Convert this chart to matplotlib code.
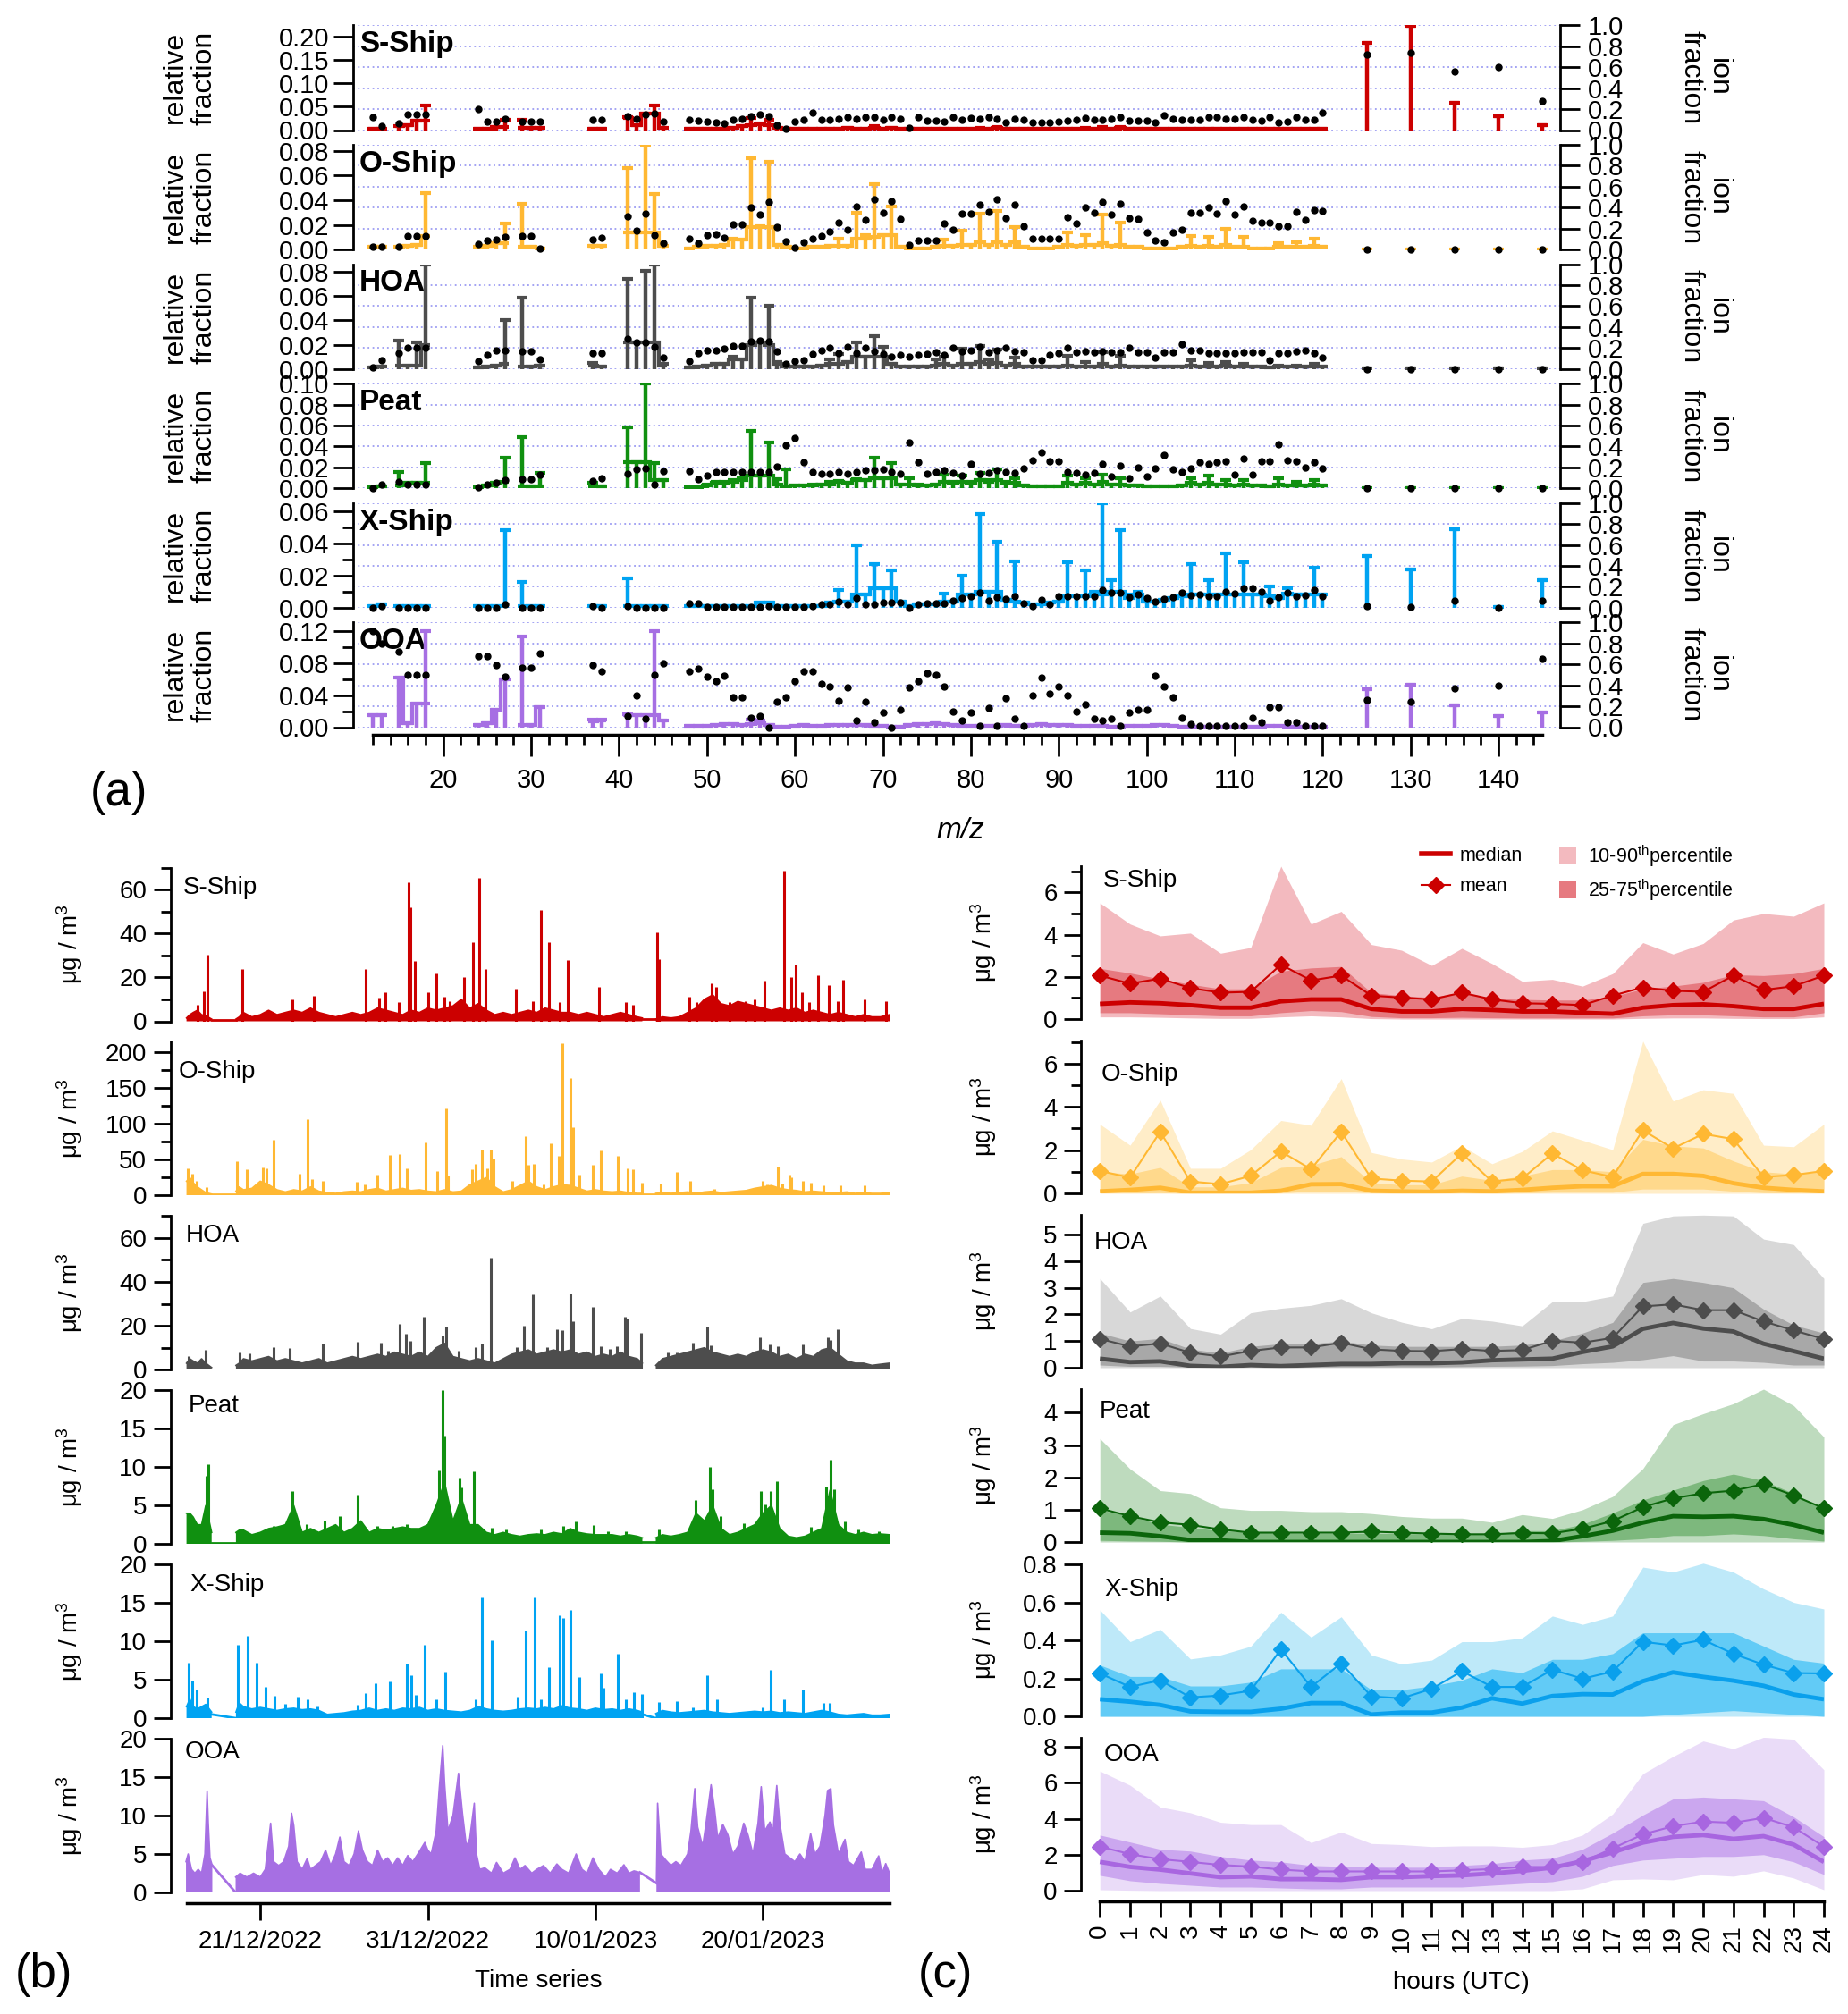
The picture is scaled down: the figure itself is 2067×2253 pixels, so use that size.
import numpy as np
import matplotlib
matplotlib.use('Agg')
import matplotlib.pyplot as plt
from matplotlib.lines import Line2D
from matplotlib.patches import Patch
from matplotlib.ticker import MultipleLocator, FixedLocator, FormatStrFormatter

nan = np.nan

# ===================== DATA =====================
factor_names = ['S-Ship', 'O-Ship', 'HOA', 'Peat', 'X-Ship', 'OOA']

# ---------- (a) mass spectra ----------
mz = [12, 13, 15, 16, 17, 18, 24, 25, 26, 27, 29, 30, 31, 37, 38, 41, 42, 43, 44, 45,
      48, 49, 50, 51, 52, 53, 54, 55, 56, 57, 58, 59, 60, 61, 62, 63, 64, 65, 66, 67,
      68, 69, 70, 71, 72, 73, 74, 75, 76, 77, 78, 79, 80, 81, 82, 83, 84, 85, 86, 87,
      88, 89, 90, 91, 92, 93, 94, 95, 96, 97, 98, 99, 100, 101, 102, 103, 104, 105, 106, 107,
      108, 109, 110, 111, 112, 113, 114, 115, 116, 117, 118, 119, 120,
      125, 130, 135, 140, 145]
mz_major_ticks = [20, 30, 40, 50, 60, 70, 80, 90, 100, 110, 120, 130, 140]
mz_minor_ticks = list(range(12, 146, 2))

sship_prof = [.003, .003, .008, .010, .020, .020, .002, .003, .006, .006, .005, .004, .004, .003, .003, .025, .010, .035, .035, .005,
              .002, .002, .002, .002, .003, .004, .008, .010, .012, .010, .004, .002, .002, .002, .002, .002, .002, .003, .004, .003,
              .003, .005, .003, .004, .003, .002, .002, .002, .002, .003, .002, .002, .002, .003, .002, .004, .003, .002, .002, .002,
              .002, .002, .002, .002, .002, .003, .002, .003, .002, .004, .003, .002, .002, .002, .002, .002, .002, .002, .002, .003,
              .002, .002, .002, .002, .003, .002, .002, .002, .002, .002, .002, .002, .002,
              .186, .223, .058, .030, .0096]
sship_top = [.003, .003, .008, .010, .020, .053, .002, .003, .006, .022, .022, .004, .004, .003, .003, .027, .010, .035, .053, .005,
             .002, .002, .002, .002, .003, .004, .008, .026, .014, .022, .004, .002, .002, .002, .002, .002, .002, .003, .005, .003,
             .003, .008, .003, .005, .003, .002, .002, .002, .002, .003, .002, .002, .002, .005, .002, .006, .003, .002, .002, .002,
             .002, .002, .002, .002, .002, .004, .002, .006, .002, .006, .003, .002, .002, .002, .002, .002, .002, .002, .002, .003,
             .002, .002, .002, .002, .003, .002, .002, .002, .002, .002, .002, .002, .002,
             .186, .223, .058, .030, .0096]
sship_ion = [.12, .04, .065, .15, .15, .15, .20, .085, .085, .11, .085, .077, .077, .10, .10, .13, .11, .15, .16, .08,
             .10, .092, .078, .069, .065, .10, .11, .134, .147, .134, .046, .01, .078, .10, .166, .10, .10, .11, .124, .11,
             .124, .124, .10, .124, .11, .023, .12, .092, .088, .078, .124, .10, .115, .11, .12, .11, .074, .11, .10, .069,
             .069, .069, .078, .088, .10, .115, .10, .10, .11, .12, .088, .088, .088, .069, .138, .11, .10, .10, .10, .12,
             .124, .106, .11, .124, .10, .088, .124, .069, .083, .12, .10, .10, .17,
             .72, .74, .56, .60, .28]

oship_prof = [.002, .002, .002, .003, .004, .011, .002, .003, .005, .005, .002, .002, .001, .003, .003, .014, .014, .014, .014, .003,
              .001, .002, .003, .003, .004, .008, .008, .018, .018, .018, .004, .002, .001, .001, .002, .002, .003, .003, .003, .009,
              .009, .010, .012, .012, .002, .001, .001, .001, .002, .003, .003, .004, .004, .006, .004, .006, .004, .006, .002, .001,
              .001, .001, .002, .004, .003, .004, .004, .005, .003, .004, .002, .002, .001, .001, .001, .001, .002, .003, .002, .003,
              .002, .004, .002, .002, .001, .001, .001, .002, .002, .002, .002, .003, .002,
              .0003, .0003, .0003, .0003, .0003]
oship_top = [.002, .002, .002, .003, .004, .046, .002, .003, .005, .021, .037, .002, .001, .003, .003, .066, .014, .085, .045, .003,
             .001, .002, .003, .003, .004, .009, .008, .074, .019, .071, .004, .002, .001, .001, .002, .002, .003, .009, .003, .030,
             .012, .053, .012, .035, .002, .001, .001, .001, .002, .008, .003, .015, .004, .029, .004, .031, .004, .018, .002, .001,
             .001, .001, .002, .014, .003, .012, .004, .028, .003, .022, .002, .002, .001, .001, .001, .001, .002, .011, .002, .010,
             .002, .017, .002, .010, .001, .001, .001, .005, .002, .006, .002, .009, .002,
             .0003, .0003, .0003, .0003, .0003]
oship_ion = [.03, .03, .03, .13, .13, .13, .05, .085, .094, .12, .13, .13, .01, .094, .11, .32, .18, .34, .14, .06,
             .10, .06, .135, .15, .11, .24, .24, .40, .33, .45, .21, .08, .02, .07, .10, .13, .17, .26, .19, .41,
             .28, .48, .35, .46, .29, .04, .09, .09, .09, .25, .19, .34, .34, .43, .36, .48, .30, .43, .22, .10,
             .10, .10, .10, .31, .25, .40, .35, .45, .33, .44, .30, .29, .16, .09, .07, .16, .19, .35, .35, .40,
             .34, .46, .33, .41, .27, .26, .26, .22, .22, .36, .28, .38, .37,
             0.0, 0.0, 0.0, 0.0, 0.0]

hoa_prof = [.001, .002, .003, .003, .003, .020, .001, .002, .003, .004, .002, .002, .003, .003, .002, .022, .022, .022, .022, .003,
            .001, .002, .003, .004, .004, .008, .008, .020, .022, .020, .004, .002, .002, .002, .002, .003, .004, .004, .006, .010,
            .010, .010, .010, .004, .002, .002, .002, .002, .003, .004, .003, .004, .004, .006, .004, .005, .003, .004, .002, .002,
            .002, .002, .002, .003, .002, .002, .002, .004, .002, .003, .002, .002, .002, .002, .002, .002, .002, .003, .002, .002,
            .002, .003, .002, .002, .002, .002, .001, .002, .002, .002, .002, .002, .002,
            .0003, .0003, .0003, .0003, .0003]
hoa_top = [.001, .002, .023, .003, .022, .086, .001, .002, .003, .040, .059, .002, .003, .005, .002, .074, .022, .081, .086, .004,
           .001, .002, .003, .004, .004, .010, .008, .059, .022, .052, .006, .002, .002, .002, .002, .003, .008, .012, .006, .022,
           .010, .027, .018, .004, .002, .002, .002, .002, .008, .010, .003, .017, .004, .019, .008, .016, .003, .009, .002, .002,
           .002, .002, .002, .011, .002, .006, .002, .014, .002, .011, .002, .002, .002, .002, .002, .002, .002, .007, .002, .005,
           .002, .006, .002, .004, .002, .002, .001, .003, .002, .003, .002, .004, .002,
           .0003, .0003, .0003, .0003, .0003]
hoa_ion = [.014, .08, .147, .20, .20, .20, .07, .13, .18, .18, .17, .17, .09, .15, .15, .29, .25, .25, .21, .11,
           .07, .15, .18, .18, .19, .22, .22, .26, .27, .26, .17, .05, .07, .08, .14, .18, .20, .15, .21, .15,
           .20, .17, .14, .12, .13, .12, .13, .14, .16, .13, .20, .17, .175, .21, .16, .175, .20, .17, .16, .085,
           .08, .13, .15, .20, .16, .17, .16, .17, .16, .16, .20, .16, .16, .11, .16, .16, .24, .18, .18, .15,
           .15, .15, .15, .16, .16, .16, .085, .15, .15, .17, .18, .15, .11,
           0.0, 0.0, 0.0, 0.0, 0.0]

peat_prof = [.001, .002, .003, .005, .005, .005, .001, .003, .005, .006, .002, .002, .002, .002, .002, .025, .025, .025, .008, .008,
             .001, .001, .003, .005, .005, .006, .008, .012, .012, .012, .004, .002, .003, .003, .003, .004, .004, .006, .005, .008,
             .008, .010, .010, .010, .004, .004, .003, .003, .004, .006, .005, .006, .005, .008, .006, .008, .005, .005, .003, .002,
             .002, .002, .002, .005, .004, .005, .004, .006, .004, .004, .003, .003, .002, .002, .002, .002, .003, .005, .004, .005,
             .004, .004, .003, .004, .003, .003, .002, .004, .003, .003, .003, .004, .003,
             .0003, .0003, .0003, .0003, .0003]
peat_top = [.001, .002, .016, .005, .005, .024, .001, .003, .005, .029, .049, .002, .015, .005, .002, .058, .025, .100, .024, .008,
            .001, .001, .004, .006, .006, .008, .010, .055, .012, .044, .009, .018, .003, .003, .004, .004, .006, .007, .005, .009,
            .008, .029, .010, .024, .004, .010, .004, .003, .004, .013, .006, .012, .006, .015, .008, .018, .006, .010, .003, .002,
            .002, .002, .002, .012, .004, .010, .004, .013, .004, .010, .003, .003, .002, .002, .002, .002, .003, .010, .004, .012,
            .004, .008, .003, .008, .003, .003, .002, .010, .003, .006, .003, .008, .003,
            .0003, .0003, .0003, .0003, .0003]
peat_ion = [.0, .037, .06, .035, .035, .035, .014, .037, .05, .08, .085, .085, .13, .07, .10, .14, .18, .19, .035, .165,
            .165, .085, .12, .16, .16, .16, .16, .16, .16, .16, .21, .41, .48, .25, .16, .135, .135, .16, .135, .16,
            .17, .17, .18, .16, .135, .44, .25, .135, .16, .17, .15, .12, .23, .135, .15, .17, .16, .15, .19, .27,
            .34, .26, .26, .16, .15, .13, .15, .23, .11, .22, .10, .20, .11, .19, .32, .18, .16, .19, .25, .23,
            .25, .26, .13, .28, .13, .26, .26, .42, .27, .26, .20, .25, .19,
            0.0, 0.0, 0.0, 0.0, 0.0]

xship_prof = [.001, .002, .001, .001, .001, .001, .001, .001, .001, .001, .001, .001, .001, .001, .001, .001, .001, .001, .001, .001,
              .001, .001, .001, .001, .001, .001, .001, .001, .003, .003, .001, .001, .001, .001, .001, .001, .003, .004, .004, .008,
              .008, .012, .012, .012, .004, .001, .002, .002, .002, .004, .004, .008, .008, .010, .010, .010, .005, .004, .003, .002,
              .002, .003, .004, .007, .007, .007, .008, .008, .010, .010, .006, .008, .004, .004, .005, .006, .007, .008, .008, .008,
              .008, .008, .008, .008, .008, .008, .007, .006, .009, .008, .008, .008, .008,
              .032, .024, .049, .0005, .017]
xship_top = [.001, .002, .001, .001, .001, .001, .001, .001, .001, .048, .016, .001, .001, .001, .001, .018, .001, .001, .001, .001,
             .001, .001, .001, .001, .001, .001, .001, .001, .003, .003, .001, .001, .001, .001, .001, .001, .003, .011, .004, .039,
             .008, .027, .012, .023, .004, .001, .002, .002, .002, .009, .004, .020, .008, .058, .010, .041, .005, .029, .003, .002,
             .002, .003, .004, .028, .007, .023, .010, .065, .017, .048, .008, .010, .004, .004, .005, .006, .007, .027, .008, .017,
             .008, .034, .008, .028, .008, .008, .013, .006, .012, .008, .008, .025, .008,
             .032, .024, .049, .0005, .017]
xship_ion = [.0, .015, .0, .0, .0, .0, .0, .0, .0, .035, .0, .0, .0, .02, .0, .02, .0, .0, .0, .0,
             .04, .04, .01, .01, .01, .01, .01, .01, .01, .015, .01, .01, .01, .01, .02, .035, .03, .057, .035, .09,
             .037, .037, .05, .05, .05, .0, .035, .04, .04, .04, .07, .09, .11, .14, .065, .10, .085, .11, .04, .02,
             .08, .037, .11, .11, .11, .11, .11, .17, .14, .14, .10, .13, .09, .057, .085, .10, .14, .12, .13, .11,
             .11, .156, .133, .19, .19, .15, .065, .10, .14, .11, .12, .17, .11,
             .015, .01, .07, .0, .065]

ooa_prof = [.015, .015, .062, .005, .030, .030, .003, .005, .022, .060, .003, .003, .025, .007, .008, .015, .015, .015, .015, .008,
            .002, .002, .002, .003, .004, .004, .003, .004, .005, .003, .001, .001, .002, .003, .002, .002, .003, .003, .003, .003,
            .003, .002, .002, .001, .001, .003, .004, .004, .005, .004, .003, .002, .002, .002, .002, .002, .003, .002, .002, .003,
            .004, .003, .003, .003, .002, .002, .002, .002, .001, .001, .002, .002, .002, .003, .003, .002, .001, .001, .001, .001,
            .001, .001, .001, .001, .001, .001, .002, .002, .001, .001, .001, .001, .001,
            .047, .053, .027, .014, .018]
ooa_top = [.015, .015, .062, .005, .030, .120, .003, .005, .022, .060, .113, .003, .025, .009, .009, .016, .015, .015, .120, .008,
           .002, .002, .002, .003, .004, .004, .003, .010, .008, .003, .001, .001, .002, .003, .002, .002, .003, .003, .003, .003,
           .003, .002, .002, .001, .001, .003, .004, .004, .005, .004, .003, .002, .002, .002, .002, .002, .003, .002, .002, .003,
           .004, .003, .003, .003, .002, .002, .002, .002, .001, .001, .002, .002, .002, .003, .003, .002, .001, .001, .001, .001,
           .001, .001, .001, .001, .001, .001, .002, .002, .001, .001, .001, .001, .001,
           .047, .053, .027, .014, .018]
ooa_ion = [.92, .80, .72, .50, .50, .50, .68, .68, .59, .48, .57, .57, .70, .59, .53, .11, .30, .08, .50, .61,
           .53, .56, .48, .44, .49, .29, .29, .09, .11, .0, .24, .29, .44, .53, .53, .41, .39, .25, .38, .06,
           .24, .05, .14, .0, .17, .38, .44, .52, .50, .39, .15, .06, .14, .01, .18, .01, .28, .08, .01, .30,
           .47, .32, .39, .30, .15, .22, .08, .06, .08, .01, .14, .17, .17, .49, .39, .29, .09, .03, .01, .01,
           .01, .01, .01, .01, .09, .05, .19, .19, .05, .05, .01, .01, .01,
           .26, .24, .37, .40, .65]

# ---------- (b) time series (days since 16/12/2022 00:00) ----------
date_tick_days = [5, 15, 25, 35]
date_tick_labels = ['21/12/2022', '31/12/2022', '10/01/2023', '20/01/2023']

env_day = [0.6, 0.8, 1.0, 1.25, 1.5, 1.75, 2.1, nan,
           3.55, 3.75, 4.0, 4.5, 5.0, 5.5, 6.0, 6.5, 7.0, 7.5, 8.0, 8.5, 9.0, 9.5, 10.0, 10.5, 11.0, 11.5,
           12.0, 12.5, 13.0, 13.5, 14.0, 14.5, 15.0, 15.5, 16.0, 16.5, 17.0, 17.5, 18.0, 18.5, 19.0, 19.5,
           20.0, 20.5, 21.0, 21.5, 22.0, 22.5, 23.0, 23.5, 24.0, 24.5, 25.0, 25.5, 26.0, 26.5, 27.0, 27.5, 27.8, nan,
           28.6, 29.0, 29.5, 30.0, 30.5, 31.0, 31.5, 32.0, 32.5, 33.0, 33.5, 34.0, 34.5, 35.0, 35.5, 36.0,
           36.5, 37.0, 37.5, 38.0, 38.5, 39.0, 39.5, 40.0, 40.5, 41.0, 41.5, 42.0, 42.55]

sship_env = [1.5, 3, 4, 5, 3, 2.5, 1, nan,
             1, 2, 4, 2, 3, 5, 3, 4, 5, 4, 6, 4, 3, 2, 3, 4, 3, 4,
             6, 5, 4, 3, 5, 4, 6, 5, 6, 7, 10, 6, 8, 5, 3, 4,
             3, 4, 5, 4, 6, 5, 4, 4, 3, 4, 3, 2, 3, 4, 3, 2, 1.5, nan,
             1, 2, 1.5, 2, 4, 6, 10, 12, 8, 7, 9, 8, 7, 6, 5, 6,
             5, 6, 4, 5, 4, 3, 4, 3, 2, 3, 2, 2, 3]
sship_gap_day = [2.1, 3.55, nan, 27.8, 28.6]
sship_gap_val = [0.5, 0.5, nan, 1.0, 1.0]
sship_spk_day = [1.28, 1.62, 1.87, 3.95, 6.9, 8.22, 11.27, 12.1, 12.45, 13.29, 13.85, 13.98, 14.23, 15.0, 15.48,
                 15.96, 16.31, 17.18, 17.7, 18.05, 18.46, 20.27, 21.24, 21.73, 22.21, 22.87, 23.32, 25.23, 26.83, 27.25,
                 28.7, 28.81, 30.61, 31.03, 31.94, 32.18, 32.98, 33.98, 34.5, 35.1, 36.24, 36.69, 36.93, 37.32, 37.73,
                 38.29, 38.91, 39.47, 39.78, 41.03, 42.32]
sship_spk_val = [7.7, 13.5, 30.3, 23.8, 9.8, 11.8, 24, 10.6, 13.2, 8.6, 63.4, 51.8, 27.4, 13.2, 21.8,
                 11, 9.3, 20, 36, 65.5, 24, 14.9, 9.3, 50.6, 36, 8.9, 27.8, 15.8, 8.6, 7.5,
                 40.6, 28.1, 11, 8.9, 17.5, 15.8, 8.6, 9, 9.8, 18.7, 68.6, 20, 26, 13.2, 8.6,
                 20.9, 16.6, 9.3, 18.9, 9.8, 9.3]

oship_env = [20, 25, 18, 12, 8, 4, 2, nan,
             6, 12, 8, 10, 20, 15, 8, 5, 8, 6, 12, 6, 4, 3, 5, 6, 5, 8,
             10, 6, 8, 10, 7, 8, 6, 5, 8, 5, 6, 15, 20, 25, 12, 5,
             8, 14, 20, 12, 8, 12, 15, 14, 10, 6, 8, 6, 5, 6, 4, 3, 3, nan,
             3, 4, 3, 4, 5, 3, 5, 6, 4, 5, 6, 7, 10, 12, 14, 10,
             8, 7, 5, 6, 5, 4, 4, 5, 3, 4, 3, 3, 4]
oship_gap_day = [2.1, 3.55, nan, 27.8, 28.6]
oship_gap_val = [1.5, 1.5, nan, 1.5, 1.5]
oship_spk_day = [0.69, 0.93, 1.2, 1.8, 3.6, 4.19, 4.78, 5.16, 5.37, 5.79, 7.32, 7.84, 8.1, 8.74, 10.75,
                 11.24, 11.97, 12.73, 13.32, 13.74, 14.85, 15.58, 16.07, 16.2, 17.63, 17.87, 18.25, 18.56, 18.77, 18.91,
                 20.03, 20.82, 21.0, 21.31, 21.9, 22.32, 22.8, 23.05, 23.5, 23.64, 24.02, 24.85, 25.34, 26.34, 26.9,
                 27.25, 27.77, 28.88, 29.85, 30.68, 32.1, 34.96, 35.23, 35.86, 36.17, 36.55, 36.69, 37.39, 37.84, 38.6,
                 39.64, 41.03]
oship_spk_val = [37.6, 30.7, 20, 12, 48, 37, 13, 39.7, 38.6, 78, 30.7, 107, 23, 21, 19,
                 15, 29.6, 57, 58, 38.6, 74, 34, 122, 28, 37, 44, 64, 38.6, 64, 52,
                 21, 83.6, 43, 44, 15, 73, 55.6, 213, 164.6, 95.8, 29, 43, 62.4, 55.6, 38.6,
                 37, 18.5, 16.4, 33, 20, 9.5, 20, 16, 41, 17, 29, 25, 21, 18.5, 14,
                 14, 14]

hoa_env = [3, 5, 4, 3, 5, 3, 1, nan,
           2, 3, 5, 4, 5, 6, 4, 5, 4, 3, 4, 5, 3, 4, 5, 6, 5, 6,
           7, 6, 8, 7, 6, 8, 6, 10, 12, 6, 5, 4, 5, 4, 3, 5,
           7, 8, 9, 7, 8, 9, 8, 9, 7, 8, 6, 7, 6, 8, 6, 5, 3, nan,
           2, 5, 6, 7, 8, 9, 10, 8, 7, 6, 7, 6, 8, 9, 8, 6,
           7, 5, 7, 6, 9, 10, 7, 4, 3, 3, 2, 2.5, 3]
hoa_gap_day = [2.1, 3.55, nan, 27.8, 28.6]
hoa_gap_val = [0.3, 0.3, nan, 0.3, 0.3]
hoa_spk_day = [0.75, 1.73, 3.78, 4.33, 5.79, 6.73, 8.74, 10.79, 12.18, 12.63, 13.32, 13.71, 13.95, 14.75, 15.86,
               16.07, 16.83, 17.87, 18.22, 18.77, 20.3, 20.72, 21.24, 22.11, 22.73, 23.05, 23.5, 23.67, 24.85, 25.34,
               25.86, 26.28, 26.76, 26.87, 27.73, 29.33, 29.85, 30.79, 31.66, 31.9, 34.82, 35.41, 35.89, 37.39, 38.85,
               39.02, 39.47]
hoa_spk_val = [6.3, 8.9, 7.7, 7.4, 10.3, 9.8, 12, 12.9, 12.3, 8.6, 20.9, 16.3, 13.2, 24.3, 15.4,
               19.7, 8.6, 10.3, 12, 50.9, 10.3, 20.2, 34.3, 10.3, 18.5, 18, 34.6, 22.3, 28.8, 10.6,
               9.4, 10.6, 24, 23.5, 16.8, 7.7, 7.7, 12.5, 19.7, 11, 14.6, 11.5, 10.8, 11.5, 14.6,
               13.7, 18.5]

peat_env = [4, 4, 3.5, 2.5, 2.5, 5, 1.5, nan,
            1.5, 1.8, 1.8, 1.2, 1.5, 2, 2.2, 2.5, 5, 1.5, 2, 1.5, 2, 2.5, 1.5, 2, 3, 1.5,
            2, 1.8, 2, 2.2, 2, 2, 2.5, 5, 8, 3, 6, 2.5, 2.5, 1.5, 1.2, 1.5,
            1.2, 1, 1.2, 1.3, 1.2, 1.5, 1.3, 2, 1.5, 1.3, 1.2, 1.2, 1.2, 1.0, 1.2, 1.0, 0.8, nan,
            0.8, 1.2, 1.0, 1.2, 1.5, 4, 3, 5, 2, 1.2, 1.5, 2, 2.5, 4, 5, 2,
            1, 0.8, 1.0, 1.5, 2, 7, 2.5, 1.5, 1.2, 1.5, 1.2, 1.3, 1.2]
peat_gap_day = [2.1, 3.55, nan, 27.8, 28.6]
peat_gap_val = [0.1, 0.1, nan, 0.2, 0.2]
peat_spk_day = [1.8, 1.9, 5.79, 6.48, 6.94, 7.77, 8.85, 9.75, 10.82, 11.97, 12.91, 13.74, 14.99, 15.68, 15.86,
                15.98, 16.87, 17.0, 17.77, 18.81, 19.68, 21.76, 23.08, 23.85, 24.89, 25.75, 26.8, 28.77, 29.92, 30.96,
                31.83, 32.0, 32.45, 33.85, 34.61, 34.85, 35.13, 35.44, 35.82, 37.84, 38.78, 39.02, 39.23, 39.89, 40.69,
                41.9]
peat_spk_val = [8.9, 10.4, 2.4, 2.6, 6.9, 2.6, 3.0, 3.6, 6.4, 2.3, 2.4, 2.6, 2.6, 9.6, 20,
                14.1, 8.6, 7.4, 9.5, 2.1, 1.9, 1.9, 2.3, 2.9, 2.5, 1.6, 1.6, 1.9, 1.2, 5.7,
                10, 7.1, 3.6, 2.7, 2.7, 6.9, 5.1, 6.9, 8.2, 2.2, 7.5, 10.9, 7.1, 2.9, 1.9,
                1.6]

xship_env = [1.5, 2.5, 1.5, 1.2, 1.5, 1.8, 0.8, nan,
             0.8, 2, 1.5, 1.2, 1.4, 1.2, 1.0, 1.2, 1.3, 1.1, 1.2, 1.0, 0.5, 0.6, 0.7, 0.9, 1.0, 1.3,
             1.0, 1.2, 1.0, 1.3, 1.2, 1.4, 1.0, 1.2, 1.0, 0.9, 0.8, 1.0, 1.5, 1.2, 1.0, 0.9,
             1.0, 1.2, 1.3, 1.2, 1.4, 1.2, 1.6, 1.3, 1.2, 1.0, 1.3, 1.1, 1.2, 1.0, 1.2, 1.0, 0.8, nan,
             0.6, 1.0, 0.8, 0.7, 0.8, 0.9, 1.0, 0.8, 0.7, 0.6, 0.7, 0.8, 0.9, 0.8, 0.9, 0.7,
             0.8, 0.7, 0.6, 0.8, 1.0, 0.8, 0.5, 0.4, 0.5, 0.6, 0.4, 0.4, 0.5]
xship_gap_day = [2.1, 3.55, nan, 27.8, 28.6]
xship_gap_val = [0.5, 0.0, nan, 0.5, 0.0]
xship_spk_day = [0.72, 0.96, 1.21, 1.83, 3.67, 4.23, 4.78, 5.34, 5.83, 6.48, 7.21, 7.8, 8.43, 10.82, 11.28,
                 11.87, 12.73, 13.74, 14.02, 14.26, 14.82, 15.48, 16.03, 17.87, 18.22, 18.81, 20.34, 20.86, 21.35, 21.76,
                 22.25, 22.87, 23.08, 23.5, 24.02, 25.34, 25.48, 26.34, 26.8, 27.32, 27.8, 28.81, 29.85, 30.79, 31.66,
                 32.25, 34.96, 35.48, 36.28, 37.39, 38.6, 38.95]
xship_spk_val = [7.25, 4.85, 3.75, 2.65, 9.6, 10.75, 7.25, 4.1, 2.9, 1.85, 2.75, 2.4, 1.5, 1.75, 3.25,
                 4.6, 4.75, 7.15, 5.6, 3, 9.5, 2.5, 6.1, 2.5, 15.75, 10.1, 2.85, 11.35, 15.75, 2.5,
                 6.65, 13.35, 13, 14.1, 5.35, 5.85, 4, 8.35, 2.5, 3.4, 3.15, 2.15, 2.25, 1.35, 5.6,
                 2.5, 1.35, 6.25, 2.5, 3.75, 2, 2]

ooa_env_day = [0.57, 0.7, 0.9, 1.1, 1.3, 1.5, 1.7, 1.83, 1.9, 2.0, 2.14, nan,
               3.53, 3.8, 4.2, 4.6, 5.0, 5.3, 5.62, 5.8, 6.1, 6.4, 6.7, 6.87, 7.0, 7.2, 7.5, 7.8, 8.0, 8.3, 8.6, 8.9,
               9.2, 9.5, 9.75, 10.0, 10.3, 10.6, 10.86, 11.1, 11.4, 11.7, 12.0, 12.3, 12.6, 12.9, 13.2, 13.5, 13.8, 14.1,
               14.4, 14.82, 15.0, 15.2, 15.5, 15.68, 15.89, 16.0, 16.2, 16.5, 16.83, 17.07, 17.3, 17.5, 17.77, 17.9,
               18.1, 18.4, 18.8, 19.1, 19.5, 19.9, 20.2, 20.5, 20.8, 21.2, 21.5, 21.9, 22.3, 22.7, 23.0, 23.4, 23.85,
               24.2, 24.5, 24.85, 25.2, 25.6, 25.9, 26.3, 26.7, 27.0, 27.3, 27.66, nan,
               28.64, 28.71, 28.9, 29.2, 29.5, 29.8, 30.1, 30.5, 30.7, 30.93, 31.1, 31.4, 31.6, 31.9, 32.1, 32.3, 32.6,
               32.9, 33.2, 33.5, 33.85, 34.1, 34.4, 34.7, 34.89, 35.1, 35.41, 35.6, 35.82, 36.0, 36.3, 36.6, 36.9, 37.2,
               37.5, 37.84, 38.1, 38.4, 38.7, 38.85, 39.05, 39.2, 39.5, 39.89, 40.1, 40.4, 40.86, 41.1, 41.5, 41.9,
               42.1, 42.32, 42.55]
ooa_env = [4, 5, 3, 2.5, 3, 2.5, 5, 13.2, 9, 4.5, 3.5, nan,
           2, 2.5, 2, 2.5, 2, 3, 9, 4, 3.5, 4, 6, 10.3, 8.7, 4, 3, 4.4, 3, 3.5, 4, 5.5,
           3.5, 5, 7.2, 4, 3.5, 5, 8, 5.5, 4, 3.5, 5.5, 4, 4.5, 3.5, 4.5, 3.5, 4.8, 4,
           5, 6.5, 5.5, 5, 8, 13.5, 19.1, 14.2, 8, 10, 15.5, 10.2, 6, 7, 11.6, 5,
           3, 3.2, 2.5, 3.9, 2.5, 3, 4.5, 3, 3.5, 2.5, 3, 3.5, 2.5, 3.7, 3, 2.5, 5,
           3, 2.5, 4.5, 3, 2, 3, 2.5, 3.6, 2.5, 2.8, 2.6, nan,
           1.5, 11.6, 5, 4.2, 3.5, 4, 3.5, 5, 8, 13.5, 8.5, 6, 9, 14, 11, 7, 8.85,
           7.5, 5, 6, 9, 7.5, 5, 9, 13.75, 8, 9.15, 8, 13.9, 9, 5, 4.5, 4, 5,
           4, 7.65, 5, 6, 10, 13.25, 13.5, 8.75, 5, 6.9, 4, 3.5, 5.25, 3, 3, 4.75,
           2.5, 3.75, 2.5]
ooa_gap_day = [2.14, 3.53, nan, 27.66, 28.64]
ooa_gap_val = [3.5, 0.0, nan, 2.6, 1.2]
ooa_spk_day = []
ooa_spk_val = []

# ---------- (c) diurnal cycles ----------
hours = list(range(25))
hour_labels = [str(h) for h in hours]

sship_mean = [2.06, 1.68, 1.92, 1.47, 1.25, 1.29, 2.58, 1.83, 2.06, 1.11, 1.02, 0.93, 1.25, 0.93, 0.75, 0.72, 0.66, 1.11, 1.50, 1.34, 1.29, 2.06, 1.38, 1.56, 2.06]
sship_med = [0.72, 0.79, 0.75, 0.66, 0.54, 0.54, 0.84, 0.93, 0.93, 0.48, 0.36, 0.36, 0.48, 0.43, 0.36, 0.36, 0.30, 0.25, 0.54, 0.66, 0.70, 0.61, 0.48, 0.48, 0.72]
sship_p90 = [5.5, 4.5, 3.94, 4.07, 3.12, 3.39, 7.24, 4.5, 5.1, 3.53, 3.26, 2.54, 3.35, 2.63, 1.79, 1.88, 1.56, 2.15, 3.62, 3.08, 3.58, 4.69, 5.0, 4.87, 5.5]
sship_p75 = [2.4, 2.18, 1.9, 1.65, 1.43, 1.43, 2.27, 2.42, 2.49, 1.25, 1.11, 1.02, 1.29, 0.97, 0.93, 0.9, 0.9, 1.07, 1.43, 1.56, 1.74, 2.1, 2.06, 2.15, 2.4]
sship_p25 = [0.3, 0.3, 0.25, 0.2, 0.15, 0.15, 0.3, 0.4, 0.35, 0.12, 0.06, 0.06, 0.08, 0.06, 0.05, 0.05, 0.05, 0.05, 0.15, 0.2, 0.2, 0.15, 0.1, 0.1, 0.3]
sship_p10 = [0.1, 0.1, 0.08, 0.05, 0.03, 0.03, 0.1, 0.15, 0.1, 0.02, 0, 0, 0, 0, 0, 0, 0, 0, 0.03, 0.05, 0.05, 0.03, 0.02, 0.02, 0.1]

oship_mean = [1.04, 0.73, 2.85, 0.55, 0.43, 0.81, 1.94, 1.12, 2.85, 0.69, 0.59, 0.55, 1.85, 0.55, 0.69, 1.85, 1.07, 0.76, 2.92, 2.08, 2.75, 2.51, 0.76, 0.85, 1.04]
oship_med = [0.09, 0.16, 0.26, 0.03, 0.03, 0.03, 0.12, 0.42, 0.43, 0.12, 0.09, 0.07, 0.12, 0.09, 0.16, 0.26, 0.33, 0.33, 0.90, 0.90, 0.81, 0.47, 0.26, 0.16, 0.09]
oship_p90 = [3.2, 2.23, 4.31, 1.16, 1.16, 2.02, 3.37, 3.15, 5.31, 1.89, 1.59, 1.45, 2.2, 1.37, 1.94, 2.89, 2.46, 2.02, 7.04, 4.27, 4.79, 4.62, 2.23, 2.16, 3.2]
oship_p75 = [1.0, 0.9, 1.2, 0.3, 0.3, 0.5, 1.2, 1.3, 1.7, 0.5, 0.4, 0.4, 0.8, 0.6, 0.8, 1.1, 1.1, 1.0, 2.5, 2.2, 2.1, 1.5, 1.0, 0.9, 1.0]
oship_p25 = [0.02, 0.02, 0.03, 0, 0, 0, 0.02, 0.1, 0.1, 0.02, 0.01, 0.01, 0.02, 0.01, 0.02, 0.05, 0.05, 0.05, 0.2, 0.2, 0.2, 0.1, 0.03, 0.02, 0.02]
oship_p10 = [0] * 25

hoa_mean = [1.08, 0.80, 0.91, 0.56, 0.42, 0.63, 0.76, 0.76, 0.94, 0.69, 0.63, 0.62, 0.70, 0.63, 0.66, 1.01, 0.94, 1.12, 2.30, 2.38, 2.16, 2.16, 1.74, 1.40, 1.08]
hoa_med = [0.34, 0.21, 0.24, 0.07, 0.03, 0.10, 0.06, 0.10, 0.14, 0.14, 0.17, 0.17, 0.20, 0.28, 0.31, 0.34, 0.59, 0.80, 1.46, 1.68, 1.47, 1.36, 0.90, 0.62, 0.34]
hoa_p90 = [3.35, 2.09, 2.69, 1.47, 1.26, 2.06, 2.23, 2.34, 2.59, 2.06, 1.71, 1.46, 1.85, 1.75, 1.57, 2.48, 2.48, 2.69, 5.42, 5.70, 5.73, 5.70, 4.83, 4.62, 3.35]
hoa_p75 = [1.3, 1.0, 1.1, 0.7, 0.55, 0.8, 0.9, 0.9, 1.0, 0.85, 0.8, 0.8, 0.8, 0.8, 0.85, 1.0, 1.3, 1.7, 3.2, 3.35, 3.2, 3.0, 2.2, 1.6, 1.3]
hoa_p25 = [0.1, 0.05, 0.05, 0.02, 0, 0.02, 0, 0.02, 0.03, 0.03, 0.03, 0.03, 0.04, 0.05, 0.06, 0.08, 0.15, 0.2, 0.3, 0.45, 0.25, 0.25, 0.2, 0.1, 0.1]
hoa_p10 = [0] * 25

peat_mean = [1.04, 0.80, 0.61, 0.53, 0.39, 0.29, 0.29, 0.29, 0.29, 0.32, 0.29, 0.26, 0.24, 0.24, 0.28, 0.27, 0.41, 0.65, 1.08, 1.35, 1.51, 1.59, 1.79, 1.44, 1.04]
peat_med = [0.29, 0.27, 0.18, 0.06, 0.05, 0.0, 0.0, 0.0, 0.0, 0.0, 0.0, 0.0, 0.0, 0.0, 0.0, 0.03, 0.18, 0.35, 0.60, 0.80, 0.78, 0.80, 0.71, 0.53, 0.29]
peat_p90 = [3.2, 2.26, 1.59, 1.5, 1.06, 0.98, 0.98, 0.94, 0.94, 0.88, 0.79, 0.74, 0.74, 0.61, 0.85, 0.73, 1.0, 1.41, 2.27, 3.63, 3.97, 4.28, 4.73, 4.22, 3.25]
peat_p75 = [1.0, 0.8, 0.55, 0.45, 0.35, 0.3, 0.28, 0.27, 0.27, 0.27, 0.26, 0.25, 0.25, 0.24, 0.35, 0.35, 0.55, 0.9, 1.3, 1.6, 1.9, 2.1, 1.9, 1.5, 1.0]
peat_p25 = [0.05, 0.03, 0.02, 0, 0, 0, 0, 0, 0, 0, 0, 0, 0, 0, 0, 0, 0.02, 0.05, 0.1, 0.2, 0.2, 0.25, 0.2, 0.1, 0.03]
peat_p10 = [0] * 25

xship_mean = [0.226, 0.155, 0.19, 0.10, 0.11, 0.135, 0.353, 0.155, 0.28, 0.105, 0.095, 0.145, 0.238, 0.155, 0.155, 0.246, 0.198, 0.236, 0.393, 0.373, 0.403, 0.329, 0.272, 0.228, 0.226]
xship_med = [0.09, 0.077, 0.06, 0.026, 0.024, 0.024, 0.04, 0.07, 0.07, 0.01, 0.02, 0.02, 0.046, 0.095, 0.067, 0.107, 0.117, 0.115, 0.185, 0.232, 0.208, 0.188, 0.161, 0.115, 0.09]
xship_p90 = [0.56, 0.393, 0.458, 0.302, 0.323, 0.369, 0.548, 0.417, 0.524, 0.323, 0.276, 0.296, 0.393, 0.393, 0.413, 0.528, 0.484, 0.528, 0.786, 0.76, 0.806, 0.76, 0.671, 0.60, 0.565]
xship_p75 = [0.27, 0.21, 0.21, 0.16, 0.16, 0.18, 0.25, 0.25, 0.25, 0.14, 0.14, 0.16, 0.19, 0.25, 0.23, 0.30, 0.30, 0.33, 0.44, 0.44, 0.44, 0.44, 0.37, 0.30, 0.28]
xship_p25 = [0] * 19 + [0.01, 0.02, 0.03, 0.02, 0.01, 0.0]
xship_p10 = [0] * 25

ooa_mean = [2.45, 2.03, 1.75, 1.6, 1.43, 1.34, 1.17, 1.07, 1.07, 1.07, 1.07, 1.07, 1.13, 1.2, 1.32, 1.32, 1.6, 2.35, 3.13, 3.58, 3.84, 3.77, 4.05, 3.52, 2.45]
ooa_med = [1.6, 1.32, 1.17, 0.96, 0.75, 0.79, 0.64, 0.64, 0.6, 0.75, 0.75, 0.81, 0.85, 0.96, 1.1, 1.28, 1.64, 2.13, 2.67, 2.99, 3.09, 2.88, 3.03, 2.56, 1.6]
ooa_p90 = [6.65, 5.86, 4.65, 4.33, 3.8, 3.67, 3.67, 2.67, 3.26, 2.62, 2.56, 2.45, 2.49, 2.49, 2.41, 2.56, 3.09, 4.26, 6.5, 7.46, 8.32, 7.89, 8.53, 8.42, 6.72]
ooa_p75 = [3.09, 2.7, 2.3, 2.2, 1.9, 1.7, 1.6, 1.4, 1.35, 1.3, 1.3, 1.3, 1.4, 1.5, 1.7, 1.8, 2.3, 3.2, 4.2, 5.1, 5.2, 5.1, 5.0, 4.1, 3.0]
ooa_p25 = [0.85, 0.55, 0.4, 0.3, 0.2, 0.2, 0.15, 0.1, 0.1, 0.2, 0.2, 0.2, 0.2, 0.3, 0.4, 0.5, 0.8, 1.4, 1.7, 1.8, 1.9, 1.9, 2.0, 1.6, 0.9]
ooa_p10 = [0.05, 0.02, 0, 0, 0, 0, 0, 0, 0, 0, 0, 0, 0, 0, 0, 0, 0.1, 0.6, 0.65, 0.6, 0.9, 0.8, 1.1, 0.7, 0.05]

legend_labels = ['median', 'mean', '10-90$^{\\mathrm{th}}$percentile', '25-75$^{\\mathrm{th}}$percentile']

# ===================== STYLE =====================
plt.rcParams['font.family'] = ['Liberation Sans', 'DejaVu Sans']
plt.rcParams['mathtext.fontset'] = 'custom'
plt.rcParams['mathtext.rm'] = 'Liberation Sans'
plt.rcParams['mathtext.it'] = 'Liberation Sans:italic'
plt.rcParams['mathtext.bf'] = 'Liberation Sans:bold'

line_cols = ['#CC0000', '#FFB833', '#4D4D4D', '#109010', '#00A3F2', '#A66FE3']
c_line_cols = ['#CC0000', '#FFB833', '#4D4D4D', '#0B650B', '#0AA0EC', '#A866E0']
c_light = ['#F3BABF', '#FFEDC8', '#D8D8D8', '#BEDBBE', '#BEE9F9', '#EADCF8']
c_dark = ['#E67A80', '#FFD98C', '#A8A8A8', '#7DB87D', '#62CBF6', '#CBA7EF']
grid_col = '#9C9CF2'

W, H = 2067, 2253
fig = plt.figure(figsize=(W / 100, H / 100), dpi=100)


def add_ax(l, t, r, b):
    return fig.add_axes([l / W, 1 - b / H, (r - l) / W, (b - t) / H])


# ===================== PANEL (a) =====================
prof_all = [sship_prof, oship_prof, hoa_prof, peat_prof, xship_prof, ooa_prof]
top_all = [sship_top, oship_top, hoa_top, peat_top, xship_top, ooa_top]
ion_all = [sship_ion, oship_ion, hoa_ion, peat_ion, xship_ion, ooa_ion]
a_ymax = [0.224, 0.085, 0.0863, 0.100, 0.065, 0.131]
a_step = [0.05, 0.02, 0.02, 0.02, 0.02, 0.04]
a_minor = [None, None, None, None, 0.01, 0.02]
right_ticks = [0.0, 0.2, 0.4, 0.6, 0.8, 1.0]

mz_arr = np.array(mz, float)
breaks = np.where(np.diff(mz_arr) > 1)[0] + 1
segs = np.split(np.arange(len(mz_arr)), breaks)

a_top0, a_pitch, a_h = 28.3, 133.6, 117.2
for i in range(6):
    top = a_top0 + i * a_pitch
    ax = add_ax(395, top, 1745, top + a_h)
    axr = ax.twinx()
    col = line_cols[i]
    prof = np.array(prof_all[i])
    tops = np.array(top_all[i])
    ion = np.array(ion_all[i])
    ymax = a_ymax[i]
    ax.set_xlim(9.77, 147.0)
    ax.set_ylim(0, ymax)
    axr.set_ylim(0, 1.0)
    for v in right_ticks:
        ax.axhline(v * ymax, color=grid_col, lw=1.3, ls=(0, (1, 2)), zorder=0)
    for s in segs:
        x = mz_arr[s]
        edges = np.concatenate([x - 0.5, [x[-1] + 0.5]])
        ax.stairs(prof[s], edges, baseline=None, color=col, lw=3, zorder=2)
    ax.vlines(mz_arr, 0, tops, color=col, lw=3.2, zorder=2)
    ax.plot(mz_arr, tops, ls='none', marker='_', ms=8, mew=3, color=col, zorder=2)
    axr.plot(mz_arr, ion, ls='none', marker='o', ms=5, color='k', zorder=5, clip_on=False)

    ax.yaxis.set_major_locator(FixedLocator(np.arange(0, ymax + 1e-9, a_step[i])))
    ax.yaxis.set_major_formatter(FormatStrFormatter('%.2f'))
    if a_minor[i]:
        ax.yaxis.set_minor_locator(MultipleLocator(a_minor[i]))
    ax.tick_params(axis='y', which='major', direction='out', length=16, width=2, labelsize=21, pad=3)
    ax.tick_params(axis='y', which='minor', direction='out', length=9, width=2)
    axr.yaxis.set_major_locator(FixedLocator(right_ticks))
    axr.yaxis.set_major_formatter(FormatStrFormatter('%.1f'))
    axr.tick_params(axis='y', direction='out', length=16, width=2, labelsize=21, pad=6)
    for sp in ['top', 'bottom', 'right']:
        ax.spines[sp].set_visible(False)
    ax.spines['left'].set_linewidth(2)
    for sp in ['top', 'bottom', 'left']:
        axr.spines[sp].set_visible(False)
    axr.spines['right'].set_linewidth(2)

    if i < 5:
        ax.tick_params(axis='x', bottom=False, labelbottom=False)
    else:
        ax.spines['bottom'].set_visible(True)
        ax.spines['bottom'].set_position(('outward', 6))
        ax.spines['bottom'].set_bounds(12, 145)
        ax.spines['bottom'].set_linewidth(2.5)
        ax.xaxis.set_major_locator(FixedLocator(mz_major_ticks))
        ax.xaxis.set_minor_locator(FixedLocator(mz_minor_ticks))
        ax.tick_params(axis='x', which='major', direction='out', length=17, width=2, labelsize=21, pad=10)
        ax.tick_params(axis='x', which='minor', direction='out', length=8, width=2)

    ax.text(0.005, 0.95, factor_names[i], transform=ax.transAxes, ha='left', va='top',
            fontsize=24, fontweight='bold', zorder=1.5,
            bbox=dict(facecolor='white', edgecolor='none', pad=0.5))
    yc = 1 - (top + a_h / 2) / H
    fig.text(212 / W, yc, 'relative\nfraction', rotation=90, ha='center', va='center',
             fontsize=23, linespacing=1.1, multialignment='center')
    fig.text(1907 / W, yc, 'ion\nfraction', rotation=270, ha='center', va='center',
             fontsize=23, linespacing=1.0, multialignment='center')

fig.text(133 / W, 1 - 887 / H, '(a)', ha='center', va='center', fontsize=38)
fig.text(1074 / W, 1 - 930 / H, 'm/z', ha='center', va='center', fontsize=24, style='italic')

# ===================== PANEL (b) =====================
env_vals = [sship_env, oship_env, hoa_env, peat_env, xship_env, ooa_env]
env_days = [env_day, env_day, env_day, env_day, env_day, ooa_env_day]
gap_days = [sship_gap_day, oship_gap_day, hoa_gap_day, peat_gap_day, xship_gap_day, ooa_gap_day]
gap_vals = [sship_gap_val, oship_gap_val, hoa_gap_val, peat_gap_val, xship_gap_val, ooa_gap_val]
spk_days = [sship_spk_day, oship_spk_day, hoa_spk_day, peat_spk_day, xship_spk_day, ooa_spk_day]
spk_vals = [sship_spk_val, oship_spk_val, hoa_spk_val, peat_spk_val, xship_spk_val, ooa_spk_val]
b_ymax = [70, 215, 70, 20, 20, 20]
b_major = [20, 50, 20, 5, 5, 5]
b_minor = [10, 25, 10, None, None, None]
b_title_dx = [14, 9, 17, 20, 22, 16]
b_title_dy = [22, 34, 22, 18, 23, 15]

b_top0, b_pitch, b_h = 970.5, 194.9, 172.0
b_left, b_right = 190.6, 995.0
for i in range(6):
    top = b_top0 + i * b_pitch
    ax = add_ax(b_left, top, b_right, top + b_h)
    col = line_cols[i]
    ax.set_xlim(-0.36, 42.55)
    ax.set_ylim(0, b_ymax[i])
    d = np.array(env_days[i], float)
    v = np.array(env_vals[i], float)
    ax.fill_between(d, 0, v, color=col, lw=0, zorder=2)
    ax.plot(d, v, color=col, lw=1.2, zorder=2)
    ax.plot(gap_days[i], gap_vals[i], color=col, lw=2, zorder=2)
    if len(spk_days[i]):
        ax.vlines(spk_days[i], 0, spk_vals[i], color=col, lw=2.2, zorder=3)
    ax.yaxis.set_major_locator(MultipleLocator(b_major[i]))
    if b_minor[i]:
        ax.yaxis.set_minor_locator(MultipleLocator(b_minor[i]))
    ax.tick_params(axis='y', which='major', direction='out', length=14, width=2, labelsize=20, pad=5)
    ax.tick_params(axis='y', which='minor', direction='out', length=8, width=2)
    for sp in ['top', 'right', 'bottom']:
        ax.spines[sp].set_visible(False)
    ax.spines['left'].set_linewidth(2)
    if i < 5:
        ax.tick_params(axis='x', bottom=False, labelbottom=False)
    else:
        ax.spines['bottom'].set_visible(True)
        ax.spines['bottom'].set_position(('outward', 8.3))
        ax.spines['bottom'].set_bounds(0.6, 42.55)
        ax.spines['bottom'].set_linewidth(2.5)
        ax.xaxis.set_major_locator(FixedLocator(date_tick_days))
        ax.set_xticklabels(date_tick_labels)
        ax.tick_params(axis='x', which='major', direction='out', length=14, width=2, labelsize=20, pad=8)
    ax.text(b_title_dx[i] / (b_right - b_left), 1 - b_title_dy[i] / b_h, factor_names[i],
            transform=ax.transAxes, ha='left', va='center', fontsize=20)
    fig.text(78 / W, 1 - (top + b_h / 2) / H, 'μg / m$^{3}$', rotation=90, ha='center', va='center', fontsize=20)

fig.text(602 / W, 1 - 2216 / H, 'Time series', ha='center', va='center', fontsize=20)
fig.text(49 / W, 1 - 2209 / H, '(b)', ha='center', va='center', fontsize=38)

# ===================== PANEL (c) =====================
c_mean = [sship_mean, oship_mean, hoa_mean, peat_mean, xship_mean, ooa_mean]
c_med = [sship_med, oship_med, hoa_med, peat_med, xship_med, ooa_med]
c_p90 = [sship_p90, oship_p90, hoa_p90, peat_p90, xship_p90, ooa_p90]
c_p75 = [sship_p75, oship_p75, hoa_p75, peat_p75, xship_p75, ooa_p75]
c_p25 = [sship_p25, oship_p25, hoa_p25, peat_p25, xship_p25, ooa_p25]
c_p10 = [sship_p10, oship_p10, hoa_p10, peat_p10, xship_p10, ooa_p10]
c_ymax = [7.24, 7.07, 5.74, 4.73, 0.805, 8.5]
c_major = [2, 2, 1, 1, 0.2, 2]
c_minor = [1, 1, None, None, None, None]
c_fmt = ['%d', '%d', '%d', '%d', '%.1f', '%d']
c_title_dx = [25, 23, 15, 21, 26, 26]
c_title_dy = [16, 38, 31, 25, 29, 19]

c_top0, c_pitch, c_h = 969.0, 195.0, 171.0
c_left, c_right = 1209.0, 2040.0
for i in range(6):
    top = c_top0 + i * c_pitch
    ax = add_ax(c_left, top, c_right, top + c_h)
    ax.set_xlim(-0.63, 24)
    ax.set_ylim(0, c_ymax[i])
    ax.fill_between(hours, c_p10[i], c_p90[i], color=c_light[i], lw=0, zorder=1)
    ax.fill_between(hours, c_p25[i], c_p75[i], color=c_dark[i], lw=0, zorder=2)
    ax.plot(hours, c_med[i], color=c_line_cols[i], lw=3.5, zorder=3, solid_capstyle='butt')
    ax.plot(hours, c_mean[i], color=c_line_cols[i], lw=1.5, marker='D', ms=9, zorder=4, clip_on=False)
    ax.yaxis.set_major_locator(MultipleLocator(c_major[i]))
    ax.yaxis.set_major_formatter(FormatStrFormatter(c_fmt[i]))
    if c_minor[i]:
        ax.yaxis.set_minor_locator(MultipleLocator(c_minor[i]))
    ax.tick_params(axis='y', which='major', direction='out', length=14, width=2, labelsize=20, pad=5)
    ax.tick_params(axis='y', which='minor', direction='out', length=8, width=2)
    for sp in ['top', 'right', 'bottom']:
        ax.spines[sp].set_visible(False)
    ax.spines['left'].set_linewidth(2)
    if i < 5:
        ax.tick_params(axis='x', bottom=False, labelbottom=False)
    else:
        ax.spines['bottom'].set_visible(True)
        ax.spines['bottom'].set_position(('outward', 8.3))
        ax.spines['bottom'].set_bounds(0, 24)
        ax.spines['bottom'].set_linewidth(2.5)
        ax.xaxis.set_major_locator(FixedLocator(hours))
        ax.set_xticklabels(hour_labels, rotation=90)
        ax.tick_params(axis='x', which='major', direction='out', length=13, width=2, labelsize=20, pad=6)
    ax.text(c_title_dx[i] / (c_right - c_left), 1 - c_title_dy[i] / c_h, factor_names[i],
            transform=ax.transAxes, ha='left', va='center', fontsize=20)
    fig.text(1100 / W, 1 - (top + c_h / 2) / H, 'μg / m$^{3}$', rotation=90, ha='center', va='center', fontsize=20)

fig.text(1634 / W, 1 - 2218 / H, 'hours (UTC)', ha='center', va='center', fontsize=20)
fig.text(1057 / W, 1 - 2209 / H, '(c)', ha='center', va='center', fontsize=38)

h_med = Line2D([], [], color=c_line_cols[0], lw=4)
h_mean = Line2D([], [], color=c_line_cols[0], lw=1.5, marker='D', ms=9)
leg1 = fig.legend([h_med, h_mean], legend_labels[:2], loc='upper left',
                  bbox_to_anchor=(1590 / W, 1 - 947 / H), frameon=False, fontsize=15.5,
                  handlelength=1.5, handletextpad=0.5, labelspacing=0.62, borderpad=0, borderaxespad=0)
h_p1 = Patch(facecolor=c_light[0], edgecolor='none')
h_p2 = Patch(facecolor=c_dark[0], edgecolor='none')
leg2 = fig.legend([h_p1, h_p2], legend_labels[2:], loc='upper left',
                  bbox_to_anchor=(1744 / W, 1 - 943 / H), frameon=False, fontsize=15.5,
                  handlelength=0.9, handleheight=1.0, handletextpad=0.6, labelspacing=0.45,
                  borderpad=0, borderaxespad=0)

fig.savefig('out.png', dpi=100)
